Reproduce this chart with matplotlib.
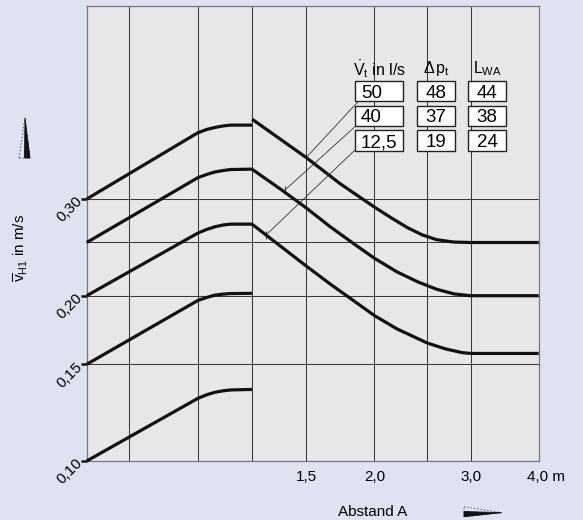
import matplotlib
matplotlib.use('Agg')
import matplotlib.pyplot as plt
from matplotlib.patches import Polygon, Rectangle

plt.rcParams['font.family'] = ['Liberation Sans', 'DejaVu Sans']
plt.rcParams['mathtext.fontset'] = 'custom'
plt.rcParams['mathtext.rm'] = 'Liberation Sans'
plt.rcParams['mathtext.it'] = 'Liberation Sans'

# rising branches (left part), one per starting velocity
rise_x = [0.594, 0.949, 0.985, 1.02, 1.055, 1.09, 1.193]
rise_y = [
    [0.300, 0.396, 0.4015, 0.405, 0.4075, 0.409, 0.409],
    [0.250, 0.328, 0.3325, 0.336, 0.338, 0.3395, 0.340],
    [0.200, 0.260, 0.264, 0.267, 0.269, 0.270, 0.270],
    [0.150, 0.196, 0.1985, 0.2005, 0.2013, 0.2018, 0.202],
    [0.100, 0.130, 0.132, 0.1334, 0.1342, 0.1347, 0.135],
]

# falling branches (right part) for 50 / 40 / 12,5 l/s
fall1_x = [1.193, 1.5, 1.73, 2.0, 2.15, 2.3, 2.45, 2.6, 2.79, 3.0, 4.0]
fall1_y = [0.4195, 0.357, 0.320, 0.290, 0.277, 0.266, 0.258, 0.253, 0.2505, 0.250, 0.250]
fall2_x = [1.193, 1.35, 1.5, 1.66, 1.83, 2.0, 2.2, 2.4, 2.6, 2.8, 3.0, 4.0]
fall2_y = [0.340, 0.312, 0.289, 0.267, 0.249, 0.234, 0.221, 0.212, 0.2055, 0.2015, 0.200, 0.200]
fall3_x = [1.193, 1.5, 1.66, 1.83, 2.0, 2.2, 2.5, 2.7, 2.9, 3.0, 4.0]
fall3_y = [0.270, 0.2265, 0.210, 0.196, 0.184, 0.174, 0.164, 0.160, 0.1575, 0.157, 0.157]

# where the leader lines touch the falling curves
lead_x = [1.5, 1.371, 1.266]
lead_y = [0.357, 0.3115, 0.258]

vt = ['50', '40', '12,5']
dpt = ['48', '37', '19']
lwa = ['44', '38', '24']

grid_x = [0.711, 0.949, 1.193, 1.5, 2.0, 2.5, 3.0]
grid_y = [0.15, 0.20, 0.25, 0.30]
xticks = [1.5, 2.0, 3.0]
xticklabels = ['1,5', '2,0', '3,0']
yticks = [0.10, 0.15, 0.20, 0.30]
yticklabels = ['0,10', '0,15', '0,20', '0,30']

W, H = 583, 520
fig = plt.figure(figsize=(W / 100, H / 100), dpi=100, facecolor='#dfe3f1')
ax = fig.add_axes([86.7 / W, 1 - 461 / H, 452 / W, 455 / H])
ax.set_facecolor('#e6e7e9')
ax.set_xscale('log')
ax.set_yscale('log')
ax.set_xlim(0.594, 4.0)
ax.set_ylim(0.10, 0.674)

for gx in grid_x:
    ax.axvline(gx, color='#3a3a3a', lw=0.75, zorder=1)
for gy in grid_y:
    ax.axhline(gy, color='#3a3a3a', lw=0.75, zorder=1)

for ys in rise_y:
    ax.plot(rise_x, ys, color='#111111', lw=2.3, solid_capstyle='butt', solid_joinstyle='round', zorder=3, clip_on=False)
for fx_, fy_ in [(fall1_x, fall1_y), (fall2_x, fall2_y), (fall3_x, fall3_y)]:
    ax.plot(fx_, fy_, color='#111111', lw=2.3, solid_capstyle='butt', solid_joinstyle='round', zorder=3, clip_on=False)

ax.xaxis.set_minor_locator(matplotlib.ticker.NullLocator())
ax.yaxis.set_minor_locator(matplotlib.ticker.NullLocator())
ax.set_xticks(xticks)
ax.set_xticklabels([])
ax.set_yticks(yticks)
ax.set_yticklabels([])
ax.tick_params(axis='x', length=0)
ax.tick_params(axis='y', length=4, width=1.8, color='#111111')
for s in ax.spines.values():
    s.set_color('#777777')
    s.set_linewidth(0.9)


def fx(px):
    return (px - 86.7) / 452


def fy(py):
    return (461 - py) / 455


for x, lab in zip(xticks, xticklabels):
    ax.text(x, -0.035, lab, transform=ax.get_xaxis_transform(), ha='center', va='center', fontsize=11)
ax.text(fx(527), -0.035, '4,0 m', transform=ax.transAxes, ha='left', va='center', fontsize=11)
for y, lab in zip(yticks, yticklabels):
    ax.text(-0.015, y, lab, transform=ax.get_yaxis_transform(), rotation=45,
            rotation_mode='anchor', ha='right', va='center', fontsize=11)

# table with leader lines
cols = [(355, 403.3), (417.3, 455), (468.3, 506)]
rows = [(81, 101), (106, 126), (130, 150.7)]
heads = [r'$\dot{V}_{\mathrm{t}}$ in l/s', r'$\Delta\,p_{\mathrm{t}}$', r'$L_{\mathrm{WA}}$']
for (c0, c1), head in zip(cols, heads):
    ax.text(fx((c0 + c1) / 2), fy(69), head, transform=ax.transAxes, ha='center', va='center', fontsize=11.5)
for ci, (c0, c1) in enumerate(cols):
    vals = [vt, dpt, lwa][ci]
    for (r0, r1), v in zip(rows, vals):
        ax.add_patch(Rectangle((fx(c0), fy(r1)), fx(c1) - fx(c0), fy(r0) - fy(r1), transform=ax.transAxes,
                               facecolor='white', edgecolor='#222222', lw=1.0, zorder=4))
        if ci == 0:
            ax.text(fx(c0 + 6), fy(r1 - 3.5), v, transform=ax.transAxes, ha='left', va='baseline',
                    fontsize=13.5, zorder=5)
        else:
            ax.text(fx((c0 + c1) / 2), fy(r1 - 3.5), v, transform=ax.transAxes, ha='center',
                    va='baseline', fontsize=13.5, zorder=5)

starts = [(358, 101.7), (355, 126.7), (355, 150)]
for (sx, sy), lx, ly in zip(starts, lead_x, lead_y):
    ax.annotate('', xy=(lx, ly), xycoords='data', xytext=(fx(sx), fy(sy)), textcoords='axes fraction',
                arrowprops=dict(arrowstyle='-', color='#333333', lw=0.6, shrinkA=0, shrinkB=0), zorder=2)
    ax.plot([lx], [ly], marker='|', color='#333333', ms=6, mew=0.7, zorder=2)

# axis labels and arrows (figure pixels)
fig.text(373 / W, 1 - 511.7 / H, 'Abstand A', ha='center', va='center', fontsize=11)
fig.text(21 / W, 1 - 248 / H, r'$\overline{v}_{\mathrm{H1}}$ in m/s', ha='center', va='center', rotation=90, fontsize=11)


def px(pts):
    return [(a / W, 1 - b / H) for a, b in pts]


fig.patches.append(Polygon(px([(464, 506.7), (501.7, 512.7), (464, 516.7)]), closed=True, transform=fig.transFigure,
                           facecolor='none', edgecolor='#555555', lw=0.6, ls=(0, (2, 2))))
fig.patches.append(Polygon(px([(464, 511.5), (501.7, 512.7), (464, 516.7)]), closed=True, transform=fig.transFigure,
                           facecolor='#111111', edgecolor='#111111', lw=0.6))
fig.patches.append(Polygon(px([(19, 158), (25, 118), (30, 158)]), closed=True, transform=fig.transFigure,
                           facecolor='none', edgecolor='#555555', lw=0.6, ls=(0, (2, 2))))
fig.patches.append(Polygon(px([(24.5, 158), (25, 118), (30, 158)]), closed=True, transform=fig.transFigure,
                           facecolor='#111111', edgecolor='#111111', lw=0.6))

fig.savefig('out.png', dpi=100, facecolor=fig.get_facecolor())
